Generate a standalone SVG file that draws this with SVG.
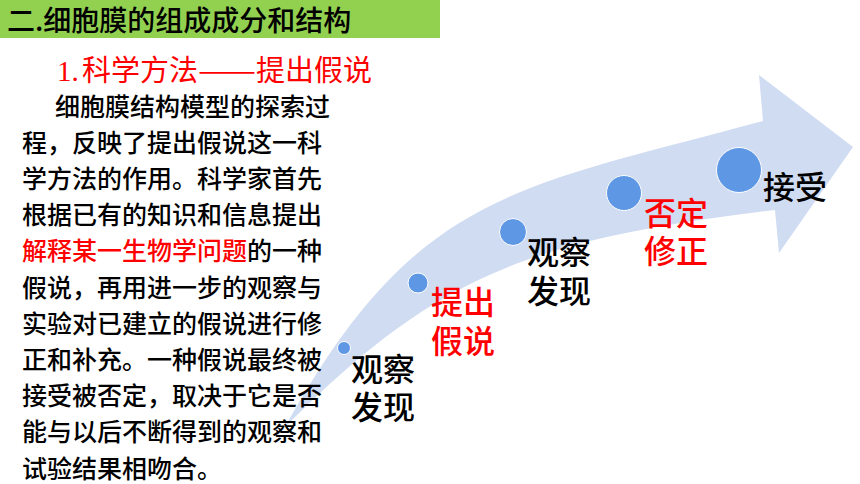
<svg xmlns="http://www.w3.org/2000/svg" width="860" height="484" viewBox="0 0 860 484">
<style>
.cjk{font-family:"Noto Sans CJK SC","Noto Sans",sans-serif;font-weight:500;}
.body{font-size:25px;fill:#000;}
.lbl{font-size:32px;}
.blk{fill:#000;}
.red{fill:#FF0000;}
.dot{fill:#5E97E4;stroke:#FFFFFF;stroke-width:1;}
</style>
<rect width="860" height="484" fill="#FFFFFF"/>
<g id="connectors">
<path d="M285,427 C415,193 513,188.5 763,121 L759,75 L853,147 L779,253 L775,210 C525,240 435,277 285,427 Z" fill="#D0DCF2"/>
</g>
<g id="header">
<rect x="0" y="0" width="440" height="38" fill="#92D050"/>
<text x="7" y="31" class="cjk" font-size="28" font-weight="bold" fill="#000">二.细胞膜的组成成分和结构</text>
</g>
<g id="subtitle">
<text y="81" font-size="29" fill="#FF0000" font-family="'Noto Sans CJK SC',sans-serif"><tspan x="57" font-family="Liberation Serif,serif">1.</tspan><tspan x="82">科学方法</tspan><tspan x="198" textLength="58" lengthAdjust="spacingAndGlyphs">——</tspan><tspan x="256">提出假说</tspan></text>
</g>
<g id="paragraph" class="cjk body">
<text x="55" y="115.5">细胞膜结构模型的探索过</text>
<text x="22" y="151.7">程，反映了提出假说这一科</text>
<text x="22" y="187.9">学方法的作用。科学家首先</text>
<text x="22" y="224.1">根据已有的知识和信息提出</text>
<text x="22" y="260.3"><tspan fill="#FF0000">解释某一生物学问题</tspan>的一种</text>
<text x="22" y="296.5">假说，再用进一步的观察与</text>
<text x="22" y="332.7">实验对已建立的假说进行修</text>
<text x="22" y="368.9">正和补充。一种假说最终被</text>
<text x="22" y="405.1">接受被否定，取决于它是否</text>
<text x="22" y="441.3">能与以后不断得到的观察和</text>
<text x="22" y="477.5">试验结果相吻合。</text>
</g>
<g id="step1">
<circle cx="344" cy="348" r="6.5" class="dot"/>
<text class="cjk lbl blk" x="351" y="381">观察</text>
<text class="cjk lbl blk" x="351" y="419">发现</text>
</g>
<g id="step2">
<circle cx="418" cy="283" r="10" class="dot"/>
<text class="cjk lbl red" x="431" y="314">提出</text>
<text class="cjk lbl red" x="431" y="353">假说</text>
</g>
<g id="step3">
<circle cx="513" cy="232" r="13.5" class="dot"/>
<text class="cjk lbl blk" x="527" y="264">观察</text>
<text class="cjk lbl blk" x="527" y="303">发现</text>
</g>
<g id="step4">
<circle cx="624" cy="193" r="17.5" class="dot"/>
<text class="cjk lbl red" x="644" y="225">否定</text>
<text class="cjk lbl red" x="644" y="263">修正</text>
</g>
<g id="step5">
<circle cx="739" cy="170" r="22.5" class="dot"/>
<text class="cjk lbl blk" x="763" y="199">接受</text>
</g>
</svg>
